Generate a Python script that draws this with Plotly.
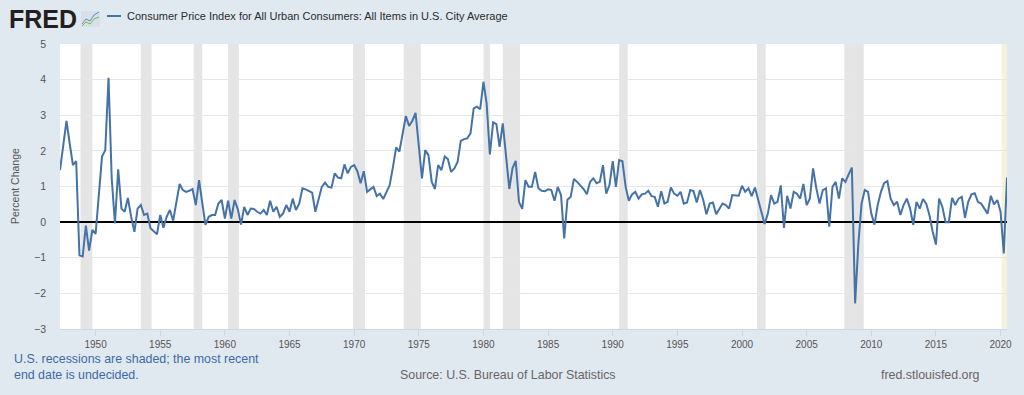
import plotly.graph_objects as go
import pandas as pd

# Quarterly percent change, CPI-U (starting 1947-04-01)
cpi_1940s = [1.46, 2.2, 2.84, 2.2, 1.6, 1.71, -0.93, -0.96, -0.1, -0.8, -0.22]
cpi_1950s = [-0.33, 0.75, 1.84, 2.02, 4.05, 1.23, -0.04, 1.48, 0.38, 0.29,
             0.68, 0.15, -0.27, 0.38, 0.48, 0.2, 0.24, -0.17, -0.27, -0.34,
             0.2, -0.16, 0.15, 0.34, 0.04, 0.62, 1.07, 0.9, 0.85, 0.88,
             0.93, 0.48, 1.18, 0.55, -0.08, 0.15, 0.2, 0.2, 0.52, 0.62]
cpi_1960s = [0.1, 0.6, 0.1, 0.62, 0.36, -0.07, 0.43, 0.2, 0.38, 0.37,
             0.29, 0.24, 0.34, 0.2, 0.6, 0.29, 0.43, 0.15, 0.24, 0.48,
             0.29, 0.66, 0.34, 0.52, 0.95, 0.92, 0.88, 0.83, 0.29, 0.65,
             0.99, 1.11, 0.99, 0.97, 1.37, 1.25, 1.23, 1.62, 1.37, 1.55]
cpi_1970s = [1.6, 1.43, 1.09, 1.43, 0.85, 0.92, 0.99, 0.73, 0.8, 0.65,
             0.85, 1.04, 1.55, 2.1, 1.98, 2.54, 2.98, 2.7, 2.84, 3.07,
             2.07, 1.23, 2.02, 1.88, 1.13, 0.93, 1.6, 1.46, 1.84, 1.77,
             1.41, 1.51, 1.69, 2.28, 2.33, 2.35, 2.49, 3.19, 3.24, 3.17]
cpi_1980s = [3.94, 3.33, 1.9, 2.8, 2.75, 2.11, 2.77, 1.74, 0.93, 1.51,
             1.72, 0.57, 0.37, 1.18, 0.99, 0.99, 1.41, 0.95, 0.88, 0.87,
             0.92, 0.9, 0.6, 0.99, 0.76, -0.46, 0.63, 0.71, 1.21, 1.13,
             1.04, 0.93, 0.78, 1.13, 1.23, 1.09, 1.13, 1.6, 0.8, 1.04]
cpi_1990s = [1.71, 0.99, 1.74, 1.71, 0.99, 0.6, 0.78, 0.85, 0.66, 0.78,
             0.8, 0.88, 0.73, 0.71, 0.43, 0.87, 0.52, 0.57, 0.97, 0.8,
             0.74, 0.85, 0.52, 0.55, 0.9, 0.87, 0.55, 0.9, 0.62, 0.22,
             0.52, 0.55, 0.22, 0.37, 0.52, 0.48, 0.38, 0.76, 0.76, 0.74]
cpi_2000s = [1.02, 0.85, 0.95, 0.73, 0.97, 0.66, 0.29, -0.05, 0.24, 0.76,
             0.52, 0.57, 1.03, -0.16, 0.74, 0.38, 0.85, 0.8, 0.66, 1.07,
             0.48, 0.66, 1.51, 0.95, 0.52, 0.9, 0.95, -0.13, 0.99, 1.13,
             0.66, 1.23, 1.13, 1.34, 1.53, -2.28, -0.6, 0.52, 0.9, 0.85]
cpi_2010s = [0.24, -0.07, 0.48, 0.85, 1.1, 1.15, 0.66, 0.48, 0.57, 0.2,
             0.48, 0.66, 0.38, -0.08, 0.57, 0.38, 0.65, 0.52, 0.2, -0.27,
             -0.63, 0.66, 0.43, 0.0, 0.0, 0.68, 0.48, 0.66, 0.71, 0.12,
             0.57, 0.78, 0.81, 0.57, 0.52, 0.38, 0.24, 0.74, 0.5, 0.62]
cpi_2020s = [0.29, -0.88, 1.25]

values = cpi_1940s + cpi_1950s + cpi_1960s + cpi_1970s + cpi_1980s + cpi_1990s + cpi_2000s + cpi_2010s + cpi_2020s
dates = pd.date_range("1947-04-01", periods=len(values), freq="QS")

recession_starts = ["1948-11-01", "1953-07-01", "1957-08-01", "1960-04-01", "1969-12-01",
                    "1973-11-01", "1980-01-01", "1981-07-01", "1990-07-01", "2001-03-01",
                    "2007-12-01"]
recession_ends = ["1949-10-01", "1954-05-01", "1958-04-01", "1961-02-01", "1970-11-01",
                  "1975-03-01", "1980-07-01", "1982-11-01", "1991-03-01", "2001-11-01",
                  "2009-06-01"]
open_recession_start = "2020-02-01"

tick_years = list(range(1950, 2021, 5))

BG = "#e1e9f0"
LINE = "#4572a7"
FONT = "Liberation Sans, Arial, sans-serif"

L, R, T, B = 60, 17, 44, 66
W, H = 1024, 395
PW, PH = W - L - R, H - T - B

def px(xp):
    return (xp - L) / PW

def py(yp):
    return (H - B - yp) / PH

fig = go.Figure()
fig.add_trace(go.Scatter(x=dates, y=values, mode="lines",
                         line=dict(color=LINE, width=2), hoverinfo="x+y",
                         showlegend=False))

shapes = []
for s, e in zip(recession_starts, recession_ends):
    shapes.append(dict(type="rect", xref="x", yref="paper", x0=s, x1=e, y0=0, y1=1,
                       fillcolor="#e5e5e5", line=dict(width=0), layer="below"))
shapes.append(dict(type="rect", xref="x", yref="paper", x0=open_recession_start, x1=dates[-1],
                   y0=0, y1=1, fillcolor="#f5f3dc", line=dict(width=0), layer="below"))
# legend swatch
shapes.append(dict(type="line", xref="paper", yref="paper", x0=px(107), x1=px(121),
                   y0=py(16), y1=py(16), line=dict(color=LINE, width=2)))
# FRED icon
shapes.append(dict(type="rect", xref="paper", yref="paper", x0=px(81), x1=px(100),
                   y0=py(27), y1=py(11), fillcolor="#d9dfe6", line=dict(width=0)))
shapes.append(dict(type="path", xref="paper", yref="paper",
                   path="M {} {} L {} {} L {} {} L {} {} L {} {}".format(
                       px(82), py(24), px(86), py(19), px(90), py(21), px(94), py(15), px(99), py(12)),
                   line=dict(color="#5b8fc7", width=1)))
shapes.append(dict(type="path", xref="paper", yref="paper",
                   path="M {} {} L {} {} L {} {} L {} {} L {} {}".format(
                       px(82), py(26), px(86), py(22), px(90), py(24), px(94), py(19), px(99), py(17)),
                   line=dict(color="#7dba4c", width=1)))

NOTE = dict(family=FONT, size=12.4, color="#3d6aa8")
annotations = [
    dict(text="<b>FRED</b>", x=px(7), y=py(19), xref="paper", yref="paper",
         xanchor="left", yanchor="middle", showarrow=False,
         font=dict(family=FONT, size=25, color="#231f20")),
    dict(text="Consumer Price Index for All Urban Consumers: All Items in U.S. City Average",
         x=px(125), y=py(16), xref="paper", yref="paper", xanchor="left", yanchor="middle",
         showarrow=False, font=dict(family=FONT, size=11, color="#2b2b2b")),
    dict(text="Percent Change", x=px(15), y=py(186), xref="paper", yref="paper",
         xanchor="center", yanchor="middle", textangle=-90, showarrow=False,
         font=dict(family=FONT, size=10.5, color="#555555")),
    dict(text="U.S. recessions are shaded; the most recent", x=px(12), y=py(359),
         xref="paper", yref="paper", xanchor="left", yanchor="middle",
         showarrow=False, font=NOTE),
    dict(text="end date is undecided.", x=px(12), y=py(375),
         xref="paper", yref="paper", xanchor="left", yanchor="middle",
         showarrow=False, font=NOTE),
    dict(text="Source: U.S. Bureau of Labor Statistics", x=px(508), y=py(375),
         xref="paper", yref="paper", xanchor="center", yanchor="middle", showarrow=False,
         font=dict(family=FONT, size=12.4, color="#666666")),
    dict(text="fred.stlouisfed.org", x=px(982), y=py(375), xref="paper", yref="paper",
         xanchor="right", yanchor="middle", showarrow=False,
         font=dict(family=FONT, size=12.4, color="#666666")),
]

fig.update_layout(
    width=W, height=H,
    margin=dict(l=L, r=R, t=T, b=B, pad=0),
    paper_bgcolor=BG, plot_bgcolor="white",
    shapes=shapes, annotations=annotations,
    showlegend=False,
    xaxis=dict(type="date", range=[dates[0], dates[-1]],
               tickvals=[pd.Timestamp(f"{y}-01-01") for y in tick_years],
               ticktext=[str(y) for y in tick_years],
               showgrid=False, showline=True, linecolor="#ccd6eb", linewidth=1,
               ticks="outside", ticklen=6, tickcolor="#ccd6eb",
               tickfont=dict(family=FONT, size=10, color="#555555"), zeroline=False),
    yaxis=dict(range=[-3, 5], dtick=1, showgrid=True, gridcolor="#e6e6e6", gridwidth=1,
               zeroline=True, zerolinecolor="black", zerolinewidth=2,
               ticks="", tickfont=dict(family=FONT, size=10.5, color="#555555"),
               ticklabelstandoff=13),
)

fig.write_html(
    "out.html",
    config={"displayModeBar": False},
    post_script="document.body.style.margin='0';document.body.style.background='" + BG + "';document.body.style.overflow='hidden';",
)
